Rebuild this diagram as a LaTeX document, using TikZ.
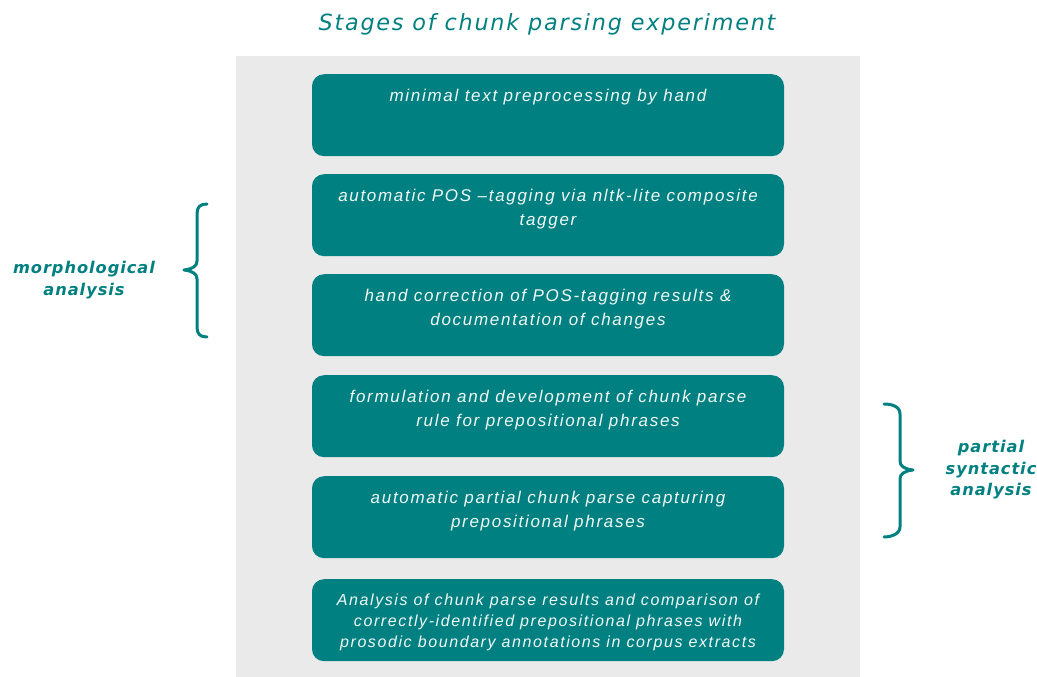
\documentclass[tikz,border=0pt]{standalone}
\usepackage{fontspec}
\usetikzlibrary{calc}
\newfontfamily\boxfont[LetterSpace=10]{Liberation Sans}
\newfontfamily\titlefont[LetterSpace=8]{DejaVu Sans}
\newfontfamily\labelfont[LetterSpace=6]{DejaVu Sans}
\definecolor{teal1}{HTML}{008080}
\definecolor{panelgray}{HTML}{EAEAEA}
\definecolor{boxtext}{HTML}{F2F8F8}
\begin{document}
\begin{tikzpicture}[x=1pt,y=-1pt,
  stagebox/.style={fill=teal1, draw=none, rounded corners=12pt, minimum width=472pt, minimum height=82pt, inner sep=0pt, anchor=north},
  stagetext/.style={anchor=north, inner sep=0pt, align=center, text=boxtext, font=\boxfont\itshape\fontsize{17}{23.5}\selectfont},
  sidelabel/.style={align=center, inner sep=0pt, text=teal1, font=\labelfont\bfseries\itshape\fontsize{16.2}{21.5}\selectfont},
  bracestyle/.style={draw=teal1, line width=3pt, line cap=round, line join=round}]
\useasboundingbox (0,0) rectangle (1037,677);
\fill[white] (0,0) rectangle (1037,677);
\fill[panelgray] (236,56) rectangle (860,677);
\node[inner sep=0pt, text=teal1, font=\titlefont\itshape\fontsize{22.3}{26}\selectfont, anchor=base] (title) at (547,31) {Stages of chunk parsing experiment};
\node[stagebox] (b1) at (548,74) {};
\node[stagebox] (b2) at (548,174) {};
\node[stagebox] (b3) at (548,274) {};
\node[stagebox] (b4) at (548,375) {};
\node[stagebox] (b5) at (548,476) {};
\node[stagebox] (b6) at (548,579) {};
\node[stagetext] (t1) at ($(b1.north)+(0,15)$) {minimal text preprocessing by hand};
\node[stagetext] (t2) at ($(b2.north)+(0,15)$) {automatic POS –tagging via nltk-lite composite\\tagger};
\node[stagetext] (t3) at ($(b3.north)+(0,15)$) {hand correction of POS-tagging results \&\\documentation of changes};
\node[stagetext] (t4) at ($(b4.north)+(0,15)$) {formulation and development of chunk parse\\rule for prepositional phrases};
\node[stagetext] (t5) at ($(b5.north)+(0,15)$) {automatic partial chunk parse capturing\\prepositional phrases};
\node[stagetext, font=\boxfont\itshape\fontsize{16}{21}\selectfont] (t6) at ($(b6.north)+(0,15)$) {Analysis of chunk parse results and comparison of\\correctly-identified prepositional phrases with\\prosodic boundary annotations in corpus extracts};
\node[sidelabel] (morph) at (84,280) {morphological\\analysis};
\node[sidelabel] (synt) at (991,470) {partial\\syntactic\\analysis};
\draw[bracestyle] (207,204) .. controls (200,204) and (197,207) .. (197,214) -- (197,261) .. controls (197,266) and (193,269) .. (184,270) .. controls (193,271) and (197,274) .. (197,279) -- (197,327) .. controls (197,334) and (200,337) .. (207,337);
\draw[bracestyle] (884,404) .. controls (891,404) and (900,406) .. (900,414) -- (900,461) .. controls (900,466) and (904,469) .. (913,470) .. controls (904,471) and (900,474) .. (900,479) -- (900,527) .. controls (900,534) and (891,537) .. (884,537);
\end{tikzpicture}
\end{document}
